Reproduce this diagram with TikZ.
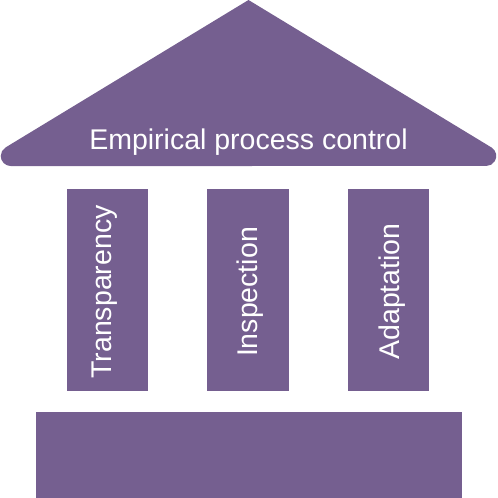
\documentclass[tikz,border=0pt]{standalone}
\usepackage{fontspec}
\setmainfont{Liberation Sans}
\usepackage{tikz}
\usetikzlibrary{positioning}
\definecolor{temple}{RGB}{117,95,144}
\tikzset{
  part/.style={fill=temple},
  word/.style={text=white,inner sep=0pt,font=\fontsize{28.5}{34}\selectfont,anchor=base},
}

\begin{document}
\begin{tikzpicture}[x=1pt,y=-1pt]
\useasboundingbox (0,0) rectangle (498,498);
%\draw[step=50,color=gray] (0,0) grid (498,498);
% roof, sharp top and round ends
\fill[part] (248.5,0) -- (491.46,147.45) arc[start angle=-58.7, end angle=90, radius=10]
  -- (10.74,166) arc[start angle=90, end angle=238.7, radius=10] -- cycle;
% pillars
\fill[part] (66.7,188.7) rectangle (148.3,390.6);
\fill[part] (207.3,188.7) rectangle (289.3,390.6);
\fill[part] (348.3,188.7) rectangle (429.3,390.6);
% base
\fill[part] (36,412) rectangle (462.3,500);
% labels
\node[word] (roof) at (248.5,149) {Empirical process control};
\node[word,rotate=90] (transp) at (111.5,292) {Transparency};
\node[word,rotate=90] (insp) at (257,292) {Inspection};
\node[word,rotate=90] (adapt) at (399.5,291.5) {Adaptation};
\end{tikzpicture}
\end{document}
